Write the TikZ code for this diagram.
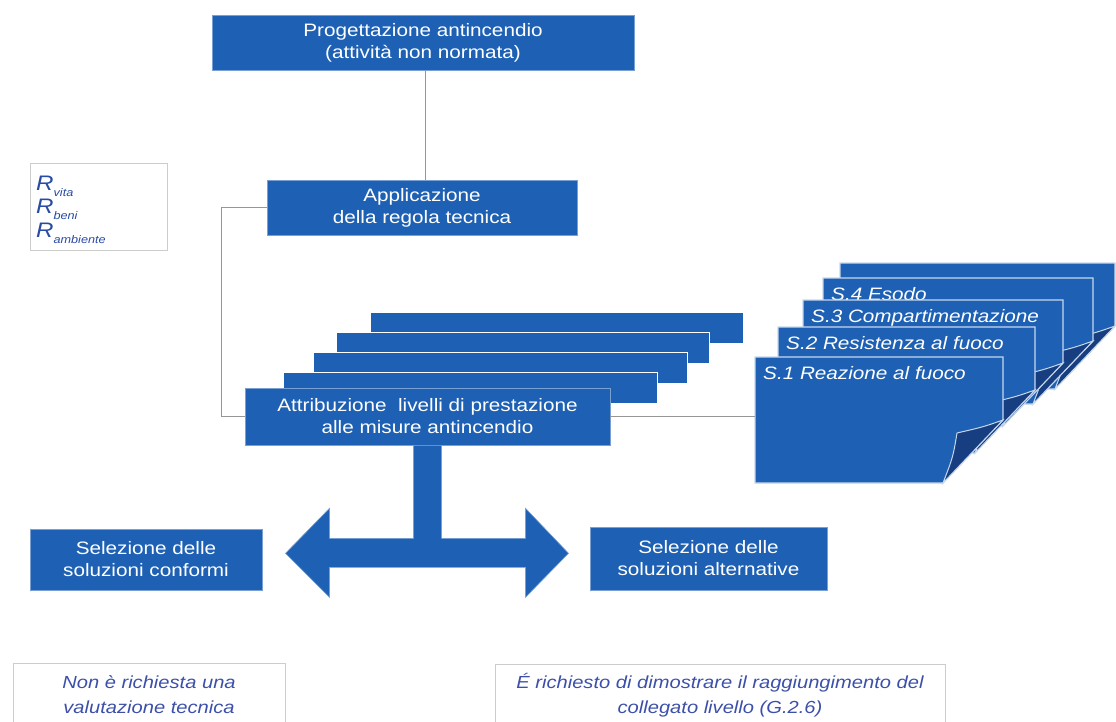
\documentclass[tikz,border=0pt]{standalone}
\usepackage{fontspec}
\setmainfont{Liberation Sans}[FakeStretch=1.15]
\usetikzlibrary{calc}
\definecolor{myblue}{RGB}{30,97,180}
\definecolor{darkflap}{RGB}{22,62,128}
\definecolor{txtblue}{RGB}{60,80,170}
\definecolor{rblue}{RGB}{40,75,165}
\definecolor{linegray}{RGB}{150,150,150}
\definecolor{boxgray}{RGB}{205,205,205}
\tikzset{
  bluebox/.style={fill=myblue, draw=myblue!60!white, line width=0.6pt, text=white, inner sep=0pt,
    align=center, font=\fontsize{18}{22}\selectfont},
  notebox/.style={draw=boxgray, line width=0.8pt, fill=white, inner sep=0pt, align=center,
    text=txtblue, font=\fontsize{17.5}{25}\selectfont\itshape},
  conn/.style={draw=linegray, line width=0.9pt},
  barstyle/.style={fill=myblue, draw=white, line width=1pt},
  sheetbody/.style={fill=myblue, draw=white!75!myblue, line width=1.2pt},
  sheetflap/.style={fill=darkflap, draw=white!75!myblue, line width=1pt},
  sheettext/.style={text=white, font=\fontsize{18}{20}\selectfont\itshape, anchor=north west, inner sep=0pt},
  rtext/.style={text=rblue, anchor=west, inner sep=0pt, font=\fontsize{21}{21}\selectfont\itshape}
}
\newcommand{\drawsheet}[5]{%
  % #1 x0, #2 y0, #3 width, #4 name, #5 text
  \path[sheetbody] (#1,#2) -- ++(#3,0) -- ++(0,63)
     -- ++(-60,63) -- (#1,#2+126) -- cycle;
  \path[sheetflap] (#1+#3,#2+63) .. controls (#1+#3-20,#2+70) .. (#1+#3-46,#2+76)
     .. controls (#1+#3-50,#2+100) .. (#1+#3-60,#2+126) -- cycle;
  \node[sheettext] (#4) at (#1+8,#2+9) {#5};
}
\newcommand{\rsub}[1]{\raisebox{-0.3em}{\fontsize{11}{11}\selectfont #1}}
\begin{document}
\begin{tikzpicture}[x=1pt,y=-1pt]
\useasboundingbox (0,0) rectangle (1116,722);
\fill[white] (0,0) rectangle (1116,722);

% main flow boxes
\node[bluebox, minimum width=422pt, minimum height=55pt] (P) at (423,42.5)
  {Progettazione antincendio\\(attività non normata)};
\node[bluebox, minimum width=310pt, minimum height=55pt] (A) at (422,207.5)
  {Applicazione\\della regola tecnica};

% R box
\node[draw=boxgray, line width=0.8pt, minimum width=137pt, minimum height=87pt, inner sep=0pt] (R) at (98.5,206.5) {};
\node[rtext] (r1) at (36,186) {R\rsub{vita}};
\node[rtext] (r2) at (36,209) {R\rsub{beni}};
\node[rtext] (r3) at (36,233) {R\rsub{ambiente}};

% stacked bars behind Attribuzione
\path[barstyle] (370,312) rectangle ++(373,31);
\path[barstyle] (336,332) rectangle ++(373,31);
\path[barstyle] (313,352) rectangle ++(374,31);
\path[barstyle] (283,372) rectangle ++(374,31);

\node[bluebox, minimum width=365pt, minimum height=57pt] (T) at (427.5,416.5)
  {Attribuzione\ \ livelli di prestazione\\alle misure antincendio};

% stacked sheets on the right
\drawsheet{840}{263}{275}{s5}{}
\drawsheet{823}{278}{270}{s4}{S.4 Esodo}
\drawsheet{803}{300}{260}{s3}{S.3 Compartimentazione}
\drawsheet{778}{327}{257}{s2}{S.2 Resistenza al fuoco}
\drawsheet{755}{357}{248}{s1}{S.1 Reazione al fuoco}
\coordinate (s1w) at (755,416.5);

% connectors
\draw[conn] (P.south -| 425,0) -- (A.north -| 425,0);
\draw[conn] (A.west) -- ++(-45,0) |- (T.west);
\draw[conn] (T.east) -- (s1w);

% double arrow from Attribuzione
\begin{scope}[shift={(T.south)}]
\fill[myblue, draw=myblue!60!white, line width=0.6pt]
  (-14,0) -- (14,0) -- (14,93) -- (98,93) -- (98,63) -- (141,108) -- (98,152) -- (98,122)
  -- (-98,122) -- (-98,152) -- (-142,108) -- (-98,63) -- (-98,93) -- (-14,93) -- cycle;
\end{scope}

% selection boxes
\node[bluebox, minimum width=232pt, minimum height=61pt] (C) at (146,559.5)
  {Selezione delle\\soluzioni conformi};
\node[bluebox, minimum width=237pt, minimum height=63pt] (Alt) at (708.5,558.5)
  {Selezione delle\\soluzioni alternative};

% note boxes
\node[notebox, minimum width=272pt, minimum height=63pt] (N1) at (149,694.5)
  {Non è richiesta una\\valutazione tecnica};
\node[notebox, minimum width=450pt, minimum height=63pt] (N2) at (720,695.5)
  {É richiesto di dimostrare il raggiungimento del\\collegato livello (G.2.6)};
\end{tikzpicture}
\end{document}
